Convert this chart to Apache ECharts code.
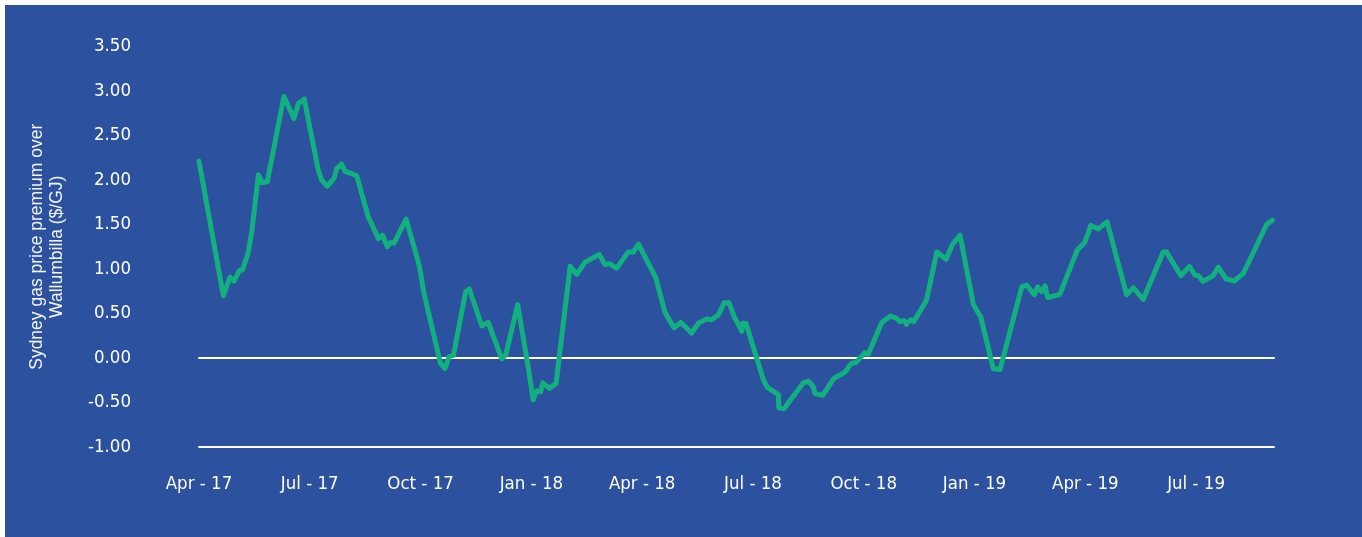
<!DOCTYPE html>
<html>
<head>
<meta charset="utf-8">
<script src="https://cdn.jsdelivr.net/npm/echarts@6/dist/echarts.min.js"></script>
<style>
  html, body { margin: 0; padding: 0; background: #ffffff; width: 1362px; height: 537px; overflow: hidden; }
  #chart { position: absolute; left: 5px; top: 5px; width: 1357px; height: 532px; }
</style>
</head>
<body>
<div id="chart"></div>
<script>
// x positions in months since April 2017 (0 = Apr-17)
const months = [
  0, 0.66, 0.84, 0.95, 1.09, 1.18, 1.33, 1.43, 1.61, 1.70, 1.85, 2.30, 2.57, 2.69, 2.85,
  3.23, 3.32, 3.47, 3.66, 3.73, 3.86, 3.95, 4.27, 4.58, 4.86, 4.97, 5.10, 5.19, 5.28, 5.61,
  5.97, 6.09, 6.54, 6.66, 6.77, 6.89, 7.22, 7.32, 7.66, 7.83, 8.20, 8.31, 8.63, 8.89, 9.05,
  9.14, 9.25, 9.31, 9.49, 9.67, 10.05, 10.23, 10.45, 10.84, 10.99, 11.11, 11.31, 11.62, 11.76,
  11.90, 12.37, 12.62, 12.86, 13.05, 13.34, 13.52, 13.75, 13.88, 14.06, 14.22, 14.35, 14.51,
  14.70, 14.72, 14.81, 15.28, 15.39, 15.69, 15.70, 15.84, 16.36, 16.50, 16.63, 16.68, 16.89,
  17.19, 17.49, 17.67, 17.79, 18.03, 18.12, 18.49, 18.71, 18.87, 18.98, 19.09, 19.16, 19.27,
  19.36, 19.70, 19.98, 20.23, 20.41, 20.61, 20.97, 21.17, 21.51, 21.69, 22.28, 22.41, 22.62,
  22.71, 22.82, 22.91, 22.98, 23.31, 23.78, 23.99, 24.15, 24.35, 24.59, 25.12, 25.30, 25.57,
  26.11, 26.20, 26.59, 26.82, 26.97, 27.06, 27.19, 27.46, 27.60, 27.81, 28.03, 28.28, 28.91, 29.07
];
// Sydney gas price premium over Wallumbilla ($/GJ)
const premium = [
  2.21, 0.70, 0.91, 0.865, 0.98, 0.99, 1.18, 1.42, 2.06, 1.97, 1.98, 2.94, 2.69, 2.86, 2.91,
  2.11, 2.00, 1.93, 2.02, 2.13, 2.18, 2.10, 2.05, 1.59, 1.34, 1.38, 1.25, 1.30, 1.29, 1.56,
  1.03, 0.73, -0.06, -0.12, 0.015, 0.03, 0.745, 0.775, 0.36, 0.40, -0.01, 0.04, 0.60, -0.04, -0.47,
  -0.37, -0.38, -0.28, -0.34, -0.285, 1.03, 0.94, 1.075, 1.165, 1.05, 1.06, 1.01, 1.19, 1.19,
  1.28, 0.90, 0.51, 0.34, 0.40, 0.28, 0.39, 0.44, 0.43, 0.48, 0.62, 0.62, 0.45,
  0.30, 0.39, 0.39, -0.24, -0.33, -0.41, -0.56, -0.57, -0.28, -0.26, -0.32, -0.40, -0.42,
  -0.23, -0.16, -0.06, -0.05, 0.06, 0.04, 0.40, 0.47, 0.45, 0.41, 0.42, 0.38, 0.43,
  0.41, 0.65, 1.19, 1.11, 1.28, 1.38, 0.60, 0.46, -0.12, -0.13, 0.80, 0.82, 0.71,
  0.80, 0.745, 0.81, 0.68, 0.715, 1.21, 1.30, 1.49, 1.45, 1.53, 0.71, 0.79, 0.66,
  1.19, 1.19, 0.925, 1.03, 0.93, 0.925, 0.86, 0.925, 1.02, 0.89, 0.865, 0.95, 1.50, 1.55
];
const xTickLabels = ['Apr - 17', 'Jul - 17', 'Oct - 17', 'Jan - 18', 'Apr - 18', 'Jul - 18',
  'Oct - 18', 'Jan - 19', 'Apr - 19', 'Jul - 19'];
const yAxisTitle = 'Sydney gas price premium over\nWallumbilla ($/GJ)';

const seriesData = months.map((m, i) => [m, premium[i]]);
const narrow = "'Liberation Sans Narrow', 'DejaVu Sans Condensed', sans-serif";

const chart = echarts.init(document.getElementById('chart'), null, { renderer: 'canvas' });
chart.setOption({
  backgroundColor: '#2c519e',
  animation: false,
  grid: { left: 194, right: 88, top: 41.5, bottom: 90 },
  xAxis: [
    {
      type: 'value', min: 0, max: 29.11, interval: 3,
      axisLine: { show: true, onZero: false, lineStyle: { color: '#ffffff', width: 2 } },
      axisTick: { show: false },
      splitLine: { show: false },
      axisLabel: {
        color: '#ffffff', fontFamily: narrow, fontSize: 18.5, margin: 28,
        showMaxLabel: false,
        formatter: v => xTickLabels[Math.round(v / 3)] || ''
      }
    },
    {
      type: 'value', min: 0, max: 29.11, interval: 3, position: 'bottom',
      axisLine: { show: true, onZero: true, lineStyle: { color: '#ffffff', width: 2 } },
      axisTick: { show: false }, axisLabel: { show: false }, splitLine: { show: false }
    }
  ],
  yAxis: {
    type: 'value', min: -1, max: 3.5, interval: 0.5,
    axisLine: { show: false }, axisTick: { show: false }, splitLine: { show: false },
    axisLabel: { color: '#ffffff', fontFamily: narrow, fontSize: 18.5, margin: 68,
      formatter: v => v.toFixed(2) },
    name: yAxisTitle, nameLocation: 'middle', nameGap: 132,
    nameTextStyle: { color: '#f2f4fa', fontFamily: "'Liberation Sans', sans-serif", fontSize: 17.5, lineHeight: 20 }
  },
  series: [{
    type: 'line', xAxisIndex: 0, data: seriesData, showSymbol: false, symbol: 'none',
    lineStyle: { color: '#12b07e', width: 5, join: 'round', cap: 'round' },
    z: 5
  }]
});
</script>
</body>
</html>
